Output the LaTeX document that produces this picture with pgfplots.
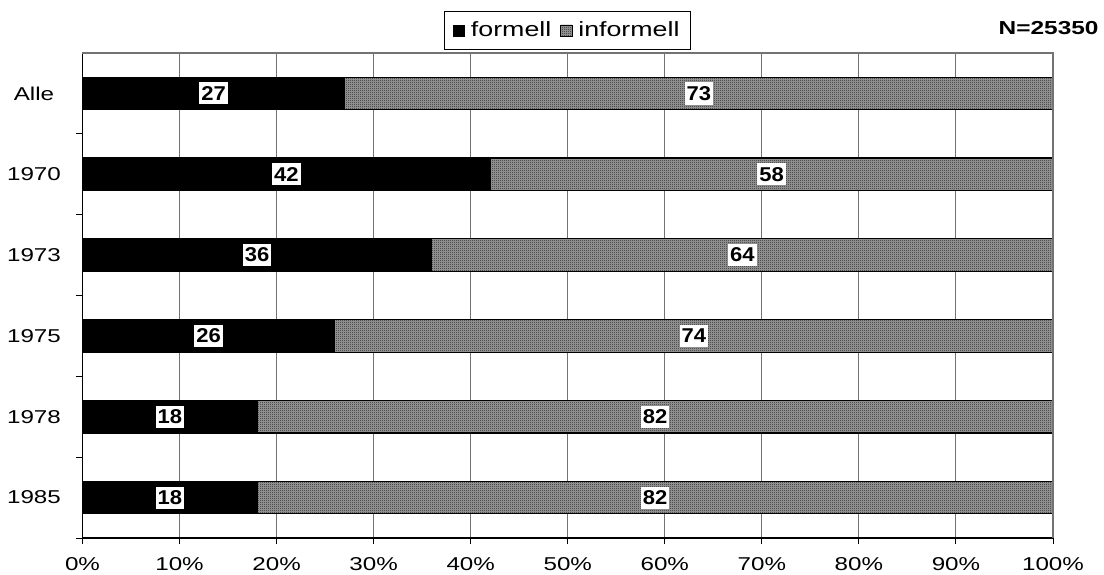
\documentclass[border=0pt]{standalone}
\usepackage{pgfplots}
\pgfplotsset{compat=1.18}
\usepackage{pgfplotstable}
\usepackage{fontspec}
\setmainfont{Liberation Sans}[FakeStretch=1.3]
\newfontfamily\lblfont{Liberation Sans}[FakeStretch=1.1]
\usetikzlibrary{patterns}

% fine dither used for the "informell" share
\pgfdeclarepatternformonly{finecheck}{\pgfpointorigin}{\pgfpoint{1pt}{1pt}}{\pgfpoint{1pt}{1pt}}{%
  \pgfpathrectangle{\pgfpointorigin}{\pgfpoint{0.5pt}{0.5pt}}%
  \pgfpathrectangle{\pgfpoint{0.5pt}{0.5pt}}{\pgfpoint{0.5pt}{0.5pt}}%
  \pgfusepath{fill}}

% shares in percent; y = position from the bottom (1985) to the top (Alle)
\pgfplotstableread{
y formell informell
5 27 73
4 42 58
3 36 64
2 26 74
1 18 82
0 18 82
}\shares

\pgfplotsset{
  frame/.style={
    scale only axis, width=485.25pt, height=242.5pt,
    at={(0,0)}, anchor=south west,
    xmin=0, xmax=100, ymin=-0.5, ymax=5.5,
  },
}

\begin{document}
\begin{tikzpicture}
\useasboundingbox (-41.25pt,-18pt) rectangle (510.75pt,269pt);
\begin{axis}[
  frame,
  xbar stacked, bar width=16.3pt,
  axis x line*=bottom, axis y line*=left,
  axis line style={-, black, line width=0.6pt},
  xtick={0,10,...,100},
  xticklabels={0\%,10\%,20\%,30\%,40\%,50\%,60\%,70\%,80\%,90\%,100\%},
  xticklabel style={font=\fontsize{9.3pt}{11pt}\selectfont, yshift=-3pt},
  tick align=outside, major tick length=3pt, minor tick length=3.5pt,
  x tick style={black, line width=0.5pt},
  xmajorgrids, grid style={black!55, line width=0.5pt},
  ytick={0,...,5},
  yticklabels={1985,1978,1975,1973,1970,Alle},
  yticklabel style={font=\fontsize{9.3pt}{11pt}\selectfont, anchor=center, xshift=-21.25pt},
  major y tick style={draw=none},
  minor ytick={-0.5,0.5,1.5,2.5,3.5,4.5},
  minor y tick style={draw=black, line width=0.5pt},
  legend columns=2,
  legend style={at={(0.5,1)}, anchor=south, yshift=1.5pt, draw=black, line width=0.5pt,
    font=\fontsize{10.3pt}{12pt}\selectfont, inner xsep=4pt, inner ysep=4pt,
    nodes={inner xsep=1.5pt, inner ysep=1pt},
    /tikz/every odd column/.append style={column sep=1.5pt},
    /tikz/every even column/.append style={column sep=3pt}},
  legend image code/.code={\draw[#1, line width=0.4pt] (0pt,-2.8pt) rectangle (5.6pt,2.8pt);},
]
\addplot[fill=black, draw=black, line width=0.5pt] table[x=formell, y=y] {\shares};
\addplot[fill=black!38, postaction={pattern=finecheck, pattern color=black!85}, draw=black, line width=0.6pt]
  table[x=informell, y=y] {\shares};
\legend{formell, informell}
\end{axis}

% value labels centred on each share
\begin{axis}[
  frame, hide axis,
  nodes near coords={\lblfont\bfseries\pgfplotspointmeta},
  point meta=explicit symbolic,
  nodes near coords align={center},
  every node near coord/.append style={anchor=center, fill=white, text=black,
    inner xsep=1pt, inner ysep=2pt, font=\fontsize{10pt}{12pt}\selectfont},
]
\addplot[only marks, mark=none] table[x expr=\thisrow{formell}/2, y=y, meta=formell] {\shares};
\addplot[only marks, mark=none] table[x expr=\thisrow{formell}+\thisrow{informell}/2, y=y, meta=informell] {\shares};
\end{axis}

\draw[black!55, line width=0.9pt] (0,242.5pt) -- (485.25pt,242.5pt) -- (485.25pt,0);
\node[anchor=east, inner sep=0pt, font=\fontsize{9.4pt}{11pt}\selectfont\bfseries] at (508.25pt,255pt) {N=25350};
\end{tikzpicture}
\end{document}
